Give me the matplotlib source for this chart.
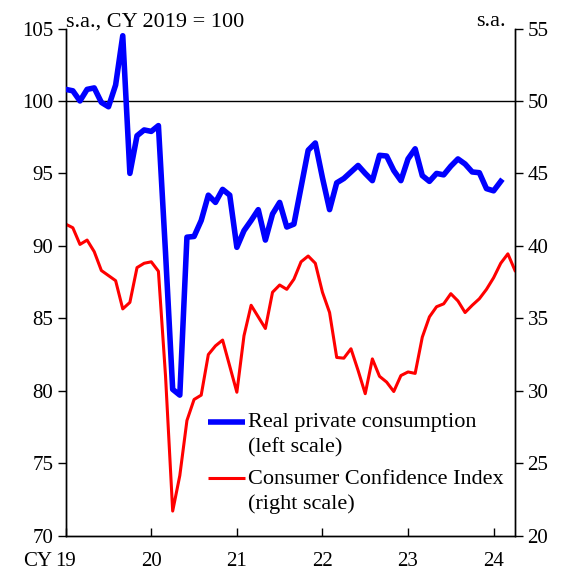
import numpy as np
import matplotlib
matplotlib.use("Agg")
import matplotlib.pyplot as plt
from matplotlib.lines import Line2D

plt.rcParams['font.family'] = ['Liberation Serif', 'DejaVu Serif']

# Monthly data starting Jan 2019
consumption = [100.8, 100.7, 100.0, 100.8, 100.9, 99.9, 99.6, 101.1, 104.5, 95.0, 97.6, 98.0,
               97.9, 98.3, 89.5, 80.1, 79.7, 90.6, 90.65, 91.75, 93.5, 93.0, 93.9, 93.5,
               89.9, 91.05, 91.75, 92.5, 90.4, 92.2, 93.0, 91.3, 91.5, 94.05, 96.6, 97.1,
               94.7, 92.5, 94.35, 94.65, 95.1, 95.55, 95.0, 94.5, 96.25, 96.2, 95.2, 94.5,
               96.0, 96.7, 94.85, 94.45, 95.0, 94.9, 95.5, 96.0, 95.65, 95.1, 95.05, 93.95,
               93.8, 94.45]
confidence = [41.5, 41.25, 40.1, 40.4, 39.6, 38.3, 37.95, 37.6, 35.65, 36.1, 38.5, 38.8,
              38.9, 38.25, 31.0, 21.7, 24.15, 27.95, 29.4, 29.7, 32.5, 33.1, 33.5, 31.7,
              29.9, 33.8, 35.9, 35.1, 34.3, 36.8, 37.3, 37.0, 37.7, 38.9, 39.3, 38.8,
              36.8, 35.4, 32.3, 32.25, 32.9, 31.4, 29.8, 32.2, 31.0, 30.6, 29.95, 31.05,
              31.3, 31.2, 33.7, 35.1, 35.8, 36.0, 36.7, 36.2, 35.4, 35.9, 36.35, 37.0,
              37.8, 38.8, 39.45, 38.3]
start_year = 2019
year_ticks = [2019, 2020, 2021, 2022, 2023, 2024]
year_labels = ['19', '20', '21', '22', '23', '24']
left_ticks = [70, 75, 80, 85, 90, 95, 100, 105]
right_ticks = [20, 25, 30, 35, 40, 45, 50, 55]

x_cons = start_year + np.arange(len(consumption)) / 12.0
x_conf = start_year + np.arange(len(confidence)) / 12.0

FS = 15
FS_T = 16
W, H = 565, 572
fig = plt.figure(figsize=(W / 100, H / 100), dpi=100)
L, R, B, T = 65.7, 515.0, 535.7, 28.5
ax = fig.add_axes([L / W, 1 - B / H, (R - L) / W, (B - T) / H])
ax2 = ax.twinx()

BLUE_LW, RED_LW = 4.0, 2.2
ax.axhline(100, color='black', lw=1.0, zorder=1)
ax2.plot(x_conf, confidence, color='#ff0000', lw=RED_LW, zorder=3)
ax.plot(x_cons, consumption, color='#0000ff', lw=BLUE_LW, zorder=4)
ax.set_zorder(ax2.get_zorder() + 1)
ax.patch.set_visible(False)

ax.set_xlim(2019, 2024.25)
ax.set_ylim(70, 105)
ax2.set_ylim(20, 55)

ax.set_yticks(left_ticks)
ax.set_yticklabels([str(v) for v in left_ticks], fontsize=FS)
ax2.set_yticks(right_ticks)
ax2.set_yticklabels([str(v) for v in right_ticks], fontsize=FS)
ax.set_xticks(year_ticks)
ax.set_xticklabels(year_labels, fontsize=FS)

ax.tick_params(axis='y', direction='out', length=6, width=1, pad=3, colors='black')
ax2.tick_params(axis='y', direction='out', length=6, width=1, pad=3, colors='black')
ax.tick_params(axis='x', direction='in', length=6, width=1, pad=12)

for a in (ax, ax2):
    a.spines['top'].set_visible(False)
    for s in ('left', 'right', 'bottom'):
        a.spines[s].set_linewidth(1.0)
        a.spines[s].set_color('black')

ax.text(0.0, 1.0 - 3 / (B - T), 's.a., CY 2019 = 100', transform=ax.transAxes,
        ha='left', va='bottom', fontsize=FS_T)
ax.text(0.98, 1.0 - 3 / (B - T), 's.a.', transform=ax.transAxes,
        ha='right', va='bottom', fontsize=FS_T)

# Legend (manual)
def fx(px):
    return (px - L) / (R - L)

def fy(py):
    return (B - py) / (B - T)

ax.add_line(Line2D([fx(208), fx(245)], [fy(421.7), fy(421.7)], transform=ax.transAxes,
                   color='#0000ff', lw=BLUE_LW, solid_capstyle='butt'))
ax.add_line(Line2D([fx(208), fx(245)], [fy(478), fy(478)], transform=ax.transAxes,
                   color='#ff0000', lw=RED_LW, solid_capstyle='butt'))
for txt, py in [('Real private consumption', 423), ('(left scale)', 448),
                ('Consumer Confidence Index', 479), ('(right scale)', 504)]:
    ax.text(fx(248), fy(py), txt, transform=ax.transAxes, ha='left', va='center', fontsize=FS_T)

# "CY" prefix left of the first x tick label
fig.canvas.draw()
lab = ax.get_xticklabels()[0]
bb = lab.get_window_extent()
fig.text((bb.x0 - 3) / W, (bb.y0 + bb.y1) / 2 / H, 'CY', ha='right', va='center', fontsize=FS)

fig.savefig('out.png', dpi=100)
